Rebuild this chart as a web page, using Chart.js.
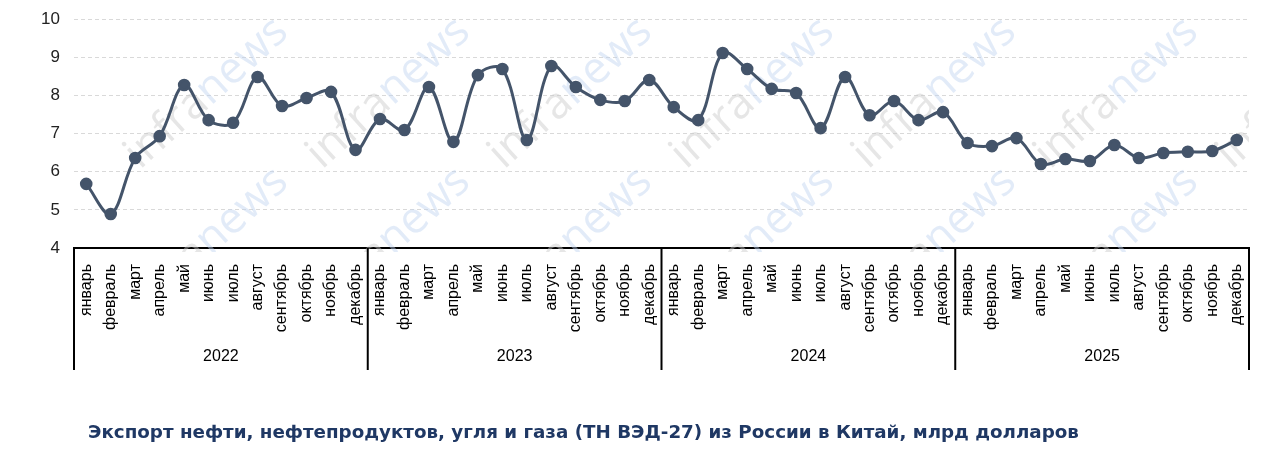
<!DOCTYPE html>
<html>
<head>
<meta charset="utf-8">
<script src="https://cdn.jsdelivr.net/npm/chart.js@4/dist/chart.umd.min.js"></script>
<style>
  html, body { margin: 0; padding: 0; background: #fff; }
  #wrap { width: 1271px; height: 462px; position: relative; }
</style>
</head>
<body>
<div id="wrap"><canvas id="exportChart"></canvas></div>
<script>
// --- данные ---
const months = ['январь', 'февраль', 'март', 'апрель', 'май', 'июнь', 'июль', 'август', 'сентябрь', 'октябрь', 'ноябрь', 'декабрь'];
const years = ['2022', '2023', '2024', '2025'];
const values2022 = [5.68, 4.89, 6.36, 6.93, 8.27, 7.35, 7.28, 8.48, 7.72, 7.93, 8.09, 6.57];
const values2023 = [7.38, 7.09, 8.22, 6.78, 8.53, 8.69, 6.83, 8.77, 8.22, 7.88, 7.85, 8.40];
const values2024 = [7.69, 7.35, 9.11, 8.69, 8.17, 8.06, 7.14, 8.48, 7.48, 7.85, 7.35, 7.56];
const values2025 = [6.75, 6.67, 6.88, 6.20, 6.33, 6.28, 6.70, 6.36, 6.49, 6.52, 6.54, 6.83];
const yTicks = [4, 5, 6, 7, 8, 9, 10];
const titleText = 'Экспорт нефти, нефтепродуктов, угля и газа (ТН ВЭД-27) из России в Китай, млрд долларов';
const watermark = ['infra', 'news'];

const labels = years.flatMap(() => months);
const values = [...values2022, ...values2023, ...values2024, ...values2025];

const lineColor = '#44546a';

// водяной знак infranews
const watermarkPlugin = {
    id: 'watermark',
    beforeDatasetsDraw(chart) {
        const { ctx, chartArea: a } = chart;
        ctx.save();
        ctx.beginPath();
        ctx.rect(a.left, a.top, a.right - a.left, a.bottom - a.top + 4);
        ctx.clip();
        ctx.font = '400 44px "Open Sans"';
        ctx.textBaseline = 'alphabetic';
        for (let k = 0; k < 8; k++) {
            for (const y0 of [170, 320]) {
                ctx.save();
                ctx.translate(140 + k * 182, y0);
                ctx.rotate(-42 * Math.PI / 180);
                ctx.fillStyle = 'rgba(200,200,200,0.45)';
                ctx.fillText(watermark[0], 0, 0);
                const w = ctx.measureText(watermark[0]).width;
                ctx.fillStyle = 'rgba(190,210,240,0.45)';
                ctx.fillText(watermark[1], w, 0);
                ctx.restore();
            }
        }
        ctx.restore();
    }
};

// годы и разделители под осью X
const yearsPlugin = {
    id: 'yearsAxis',
    afterDraw(chart) {
        const { ctx } = chart;
        const x = chart.scales.x;
        const step = x.getPixelForValue(1) - x.getPixelForValue(0);
        ctx.save();
        ctx.strokeStyle = '#000';
        ctx.lineWidth = 2;
        ctx.fillStyle = '#000';
        ctx.font = '16px "Liberation Sans"';
        ctx.textAlign = 'center';
        ctx.textBaseline = 'middle';
        const bounds = [];
        for (let i = 0; i <= years.length; i++) {
            bounds.push(x.getPixelForValue(i * 12) - step / 2);
        }
        bounds.forEach(b => {
            ctx.beginPath();
            ctx.moveTo(b, x.top);
            ctx.lineTo(b, 370);
            ctx.stroke();
        });
        years.forEach((yr, i) => {
            ctx.fillText(yr, (bounds[i] + bounds[i + 1]) / 2, 357);
        });
        // подпись
        ctx.textAlign = 'left';
        ctx.fillStyle = '#1f3864';
        ctx.font = 'bold 18.3px "DejaVu Sans"';
        ctx.fillText(titleText, 88, 433);
        ctx.restore();
    }
};

new Chart(document.getElementById('exportChart'), {
    type: 'line',
    data: {
        labels: labels,
        datasets: [{
            data: values,
            borderColor: lineColor,
            backgroundColor: lineColor,
            borderWidth: 3,
            pointRadius: 4.8,
            pointBackgroundColor: lineColor,
            pointBorderColor: lineColor,
            tension: 0.35,
            fill: false,
            clip: false
        }]
    },
    options: {
        responsive: true,
        maintainAspectRatio: false,
        animation: false,
        layout: { padding: { top: 19, right: 22, bottom: 92, left: 0 } },
        plugins: { legend: { display: false }, tooltip: { enabled: false } },
        scales: {
            x: {
                offset: true,
                afterFit(scale) { scale.height = 122; scale.paddingLeft = 0; scale.paddingRight = 0; },
                grid: { display: false, offset: true },
                border: { display: true, color: '#000', width: 2 },
                ticks: {
                    autoSkip: false,
                    maxRotation: 90,
                    minRotation: 90,
                    padding: 8,
                    color: '#000',
                    font: { family: 'Liberation Sans', size: 16 }
                }
            },
            y: {
                min: 4,
                max: 10,
                afterFit(scale) { scale.width = 74; scale.paddingTop = 0; scale.paddingBottom = 0; },
                afterBuildTicks(scale) { scale.ticks = yTicks.map(v => ({ value: v })); },
                grid: { color: '#d9d9d9', lineWidth: 1, drawTicks: false },
                border: { display: false, dash: [4, 3] },
                ticks: {
                    padding: 14,
                    color: '#222',
                    font: { family: 'Liberation Sans', size: 17 }
                }
            }
        }
    },
    plugins: [watermarkPlugin, yearsPlugin]
});
</script>
</body>
</html>
